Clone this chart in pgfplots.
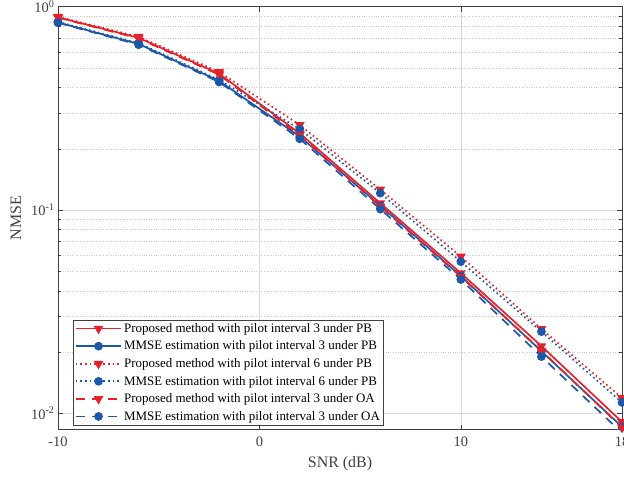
\documentclass[border=0pt]{standalone}
\usepackage{pgfplots}
\pgfplotsset{compat=1.18}
\usepackage{fontspec}
\setmainfont{Liberation Serif}
\definecolor{cred}{RGB}{232,32,42}
\definecolor{cblue}{RGB}{28,88,168}
\definecolor{axgray}{RGB}{64,64,64}

\begin{document}
\begin{tikzpicture}
\begin{axis}[
  name=ax,
  scale only axis,
  width=564bp, height=423bp,
  xmode=normal, ymode=log,
  xmin=-10, xmax=18,
  ymin=0.0083, ymax=1,
  xtick={-10,0,10,18},
  xticklabels={-10,0,10,18},
  ytick={0.01,0.1,1},
  yticklabel={\pgfmathparse{round(\tick/ln(10))}\pgfmathtruncatemacro\e{\pgfmathresult}10\textsuperscript{\e}},
  tick align=inside,
  axis line style={axgray, line width=0.6pt},
  tick style={axgray, line width=0.5pt},
  major tick length=5bp, minor tick length=3bp,
  ticklabel style={font=\fontsize{14.5}{16}\selectfont, text=axgray},
  xticklabel style={yshift=-4bp},
  xlabel={SNR (dB)}, ylabel={NMSE},
  label style={font=\fontsize{16}{18}\selectfont, text=axgray},
  xlabel style={yshift=-3bp},
  ylabel style={yshift=3bp},
  xmajorgrids, ymajorgrids, yminorgrids,
  major grid style={black!14, line width=0.5pt},
  minor grid style={black!22, dotted, line width=0.5pt},
  legend style={at={(0.027,0.01)}, anchor=south west, draw=axgray, line width=0.6pt,
    font=\fontsize{13}{15}\selectfont, row sep=3.1bp, inner sep=1.5bp, fill=white},
  legend cell align=left,
  legend image code/.code={\draw[mark repeat=2,mark phase=2,#1] plot coordinates {(0cm,0cm) (0.8cm,0cm) (1.6cm,0cm)};},
  every axis plot/.append style={line width=1.7pt},
]
% Proposed, interval 3, PB
\addplot[cred, solid, mark=triangle*, mark size=4pt, mark options={rotate=180, solid}] coordinates {
(-10,0.887) (-6,0.703) (-2,0.468) (2,0.238) (6,0.108) (10,0.0489) (14,0.0214) (18,0.00906)};
\addlegendentry{Proposed method with pilot interval 3 under PB}
% MMSE, interval 3, PB
\addplot[cblue, solid, mark=*, mark size=3.5pt, mark options={solid}] coordinates {
(-10,0.837) (-6,0.656) (-2,0.431) (2,0.230) (6,0.105) (10,0.0473) (14,0.0202) (18,0.00857)};
\addlegendentry{MMSE estimation with pilot interval 3 under PB}
% Proposed, interval 6, PB
\addplot[cred, dash pattern=on 1.6pt off 3pt, mark=triangle*, mark size=4pt, mark options={rotate=180, solid}] coordinates {
(-10,0.892) (-6,0.712) (-2,0.478) (2,0.262) (6,0.126) (10,0.0590) (14,0.0260) (18,0.0119)};
\addlegendentry{Proposed method with pilot interval 6 under PB}
% MMSE, interval 6, PB
\addplot[cblue, dash pattern=on 1.6pt off 3pt, mark=*, mark size=3.5pt, mark options={solid}] coordinates {
(-10,0.842) (-6,0.662) (-2,0.437) (2,0.250) (6,0.121) (10,0.0557) (14,0.0252) (18,0.0113)};
\addlegendentry{MMSE estimation with pilot interval 6 under PB}
% Proposed, interval 3, OA
\addplot[cred, dash pattern=on 9pt off 7pt, mark=triangle*, mark size=4pt, mark options={rotate=180, solid}] coordinates {
(-10,0.884) (-6,0.698) (-2,0.463) (2,0.233) (6,0.104) (10,0.0470) (14,0.0203) (18,0.0085)};
\addlegendentry{Proposed method with pilot interval 3 under OA}
% MMSE, interval 3, OA
\addplot[cblue, dash pattern=on 9pt off 7pt, mark=*, mark size=3.5pt, mark options={solid}] coordinates {
(-10,0.834) (-6,0.650) (-2,0.426) (2,0.224) (6,0.101) (10,0.0455) (14,0.0190) (18,0.0080)};
\addlegendentry{MMSE estimation with pilot interval 3 under OA}
\end{axis}
\pgfresetboundingbox
\path[use as bounding box] ([shift={(-58bp,-48bp)}]ax.south west) rectangle ([shift={(2bp,6.7bp)}]ax.north east);
\end{tikzpicture}
\end{document}
